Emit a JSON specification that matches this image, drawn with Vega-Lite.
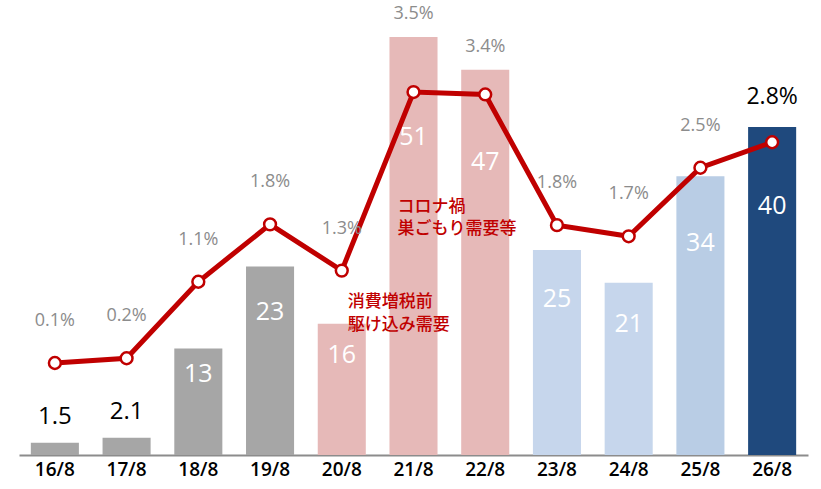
{
  "$schema": "https://vega.github.io/schema/vega-lite/v6.json",
  "width": 789,
  "height": 455,
  "padding": {"left": 19, "top": 0, "right": 13, "bottom": 4},
  "config": {"view": {"stroke": null}, "font": "Open Sans"},
  "data": {"values": [
    {"date": "16/8", "count": 1.5, "rate": 0.10, "pct": "0.1%"},
    {"date": "17/8", "count": 2.1, "rate": 0.16, "pct": "0.2%"},
    {"date": "18/8", "count": 13, "rate": 1.12, "pct": "1.1%"},
    {"date": "19/8", "count": 23, "rate": 1.84, "pct": "1.8%"},
    {"date": "20/8", "count": 16, "rate": 1.26, "pct": "1.3%"},
    {"date": "21/8", "count": 51, "rate": 3.50, "pct": "3.5%"},
    {"date": "22/8", "count": 47, "rate": 3.47, "pct": "3.4%"},
    {"date": "23/8", "count": 25, "rate": 1.83, "pct": "1.8%"},
    {"date": "24/8", "count": 21, "rate": 1.69, "pct": "1.7%"},
    {"date": "25/8", "count": 34, "rate": 2.55, "pct": "2.5%"},
    {"date": "26/8", "count": 40, "rate": 2.87, "pct": "2.8%"}
  ]},
  "encoding": {
    "x": {
      "field": "date", "type": "nominal", "sort": null,
      "scale": {
        "domain": ["16/8","17/8","18/8","19/8","20/8","21/8","22/8","23/8","24/8","25/8","26/8"],
        "paddingInner": 0.33, "paddingOuter": 0.165
      },
      "axis": {
        "title": null, "labelAngle": 0, "ticks": false,
        "domainColor": "#8c8c8c", "domainWidth": 2,
        "labelFontSize": 19, "labelFontWeight": 600, "labelColor": "#000000",
        "labelPadding": 5, "labelFont": "Open Sans"
      }
    }
  },
  "resolve": {"scale": {"y": "independent"}},
  "layer": [
    {
      "mark": {"type": "bar"},
      "encoding": {
        "y": {"field": "count", "type": "quantitative", "scale": {"domain": [0, 55.5], "nice": false, "zero": true}, "axis": null},
        "color": {
          "field": "date", "type": "nominal", "legend": null,
          "scale": {
            "domain": ["16/8","17/8","18/8","19/8","20/8","21/8","22/8","23/8","24/8","25/8","26/8"],
            "range": ["#a6a6a6","#a6a6a6","#a6a6a6","#a6a6a6","#e6b9b8","#e6b9b8","#e6b9b8","#c6d6ec","#c6d6ec","#b9cde5","#1f497d"]
          }
        }
      }
    },
    {
      "transform": [{"filter": "datum.count < 5"}],
      "mark": {"type": "text", "dy": -26, "fontSize": 24, "color": "#000000", "baseline": "middle"},
      "encoding": {
        "y": {"field": "count", "type": "quantitative", "scale": {"domain": [0, 55.5], "nice": false}, "axis": null},
        "text": {"field": "count", "type": "quantitative", "format": ".1f"}
      }
    },
    {
      "transform": [{"filter": "datum.count >= 5"}],
      "mark": {"type": "text", "fontSize": 25, "color": "#ffffff", "baseline": "middle"},
      "encoding": {
        "y": {"field": "count", "type": "quantitative", "scale": {"domain": [0, 73], "nice": false}, "axis": null},
        "text": {"field": "count", "type": "quantitative", "format": "d"}
      }
    },
    {
      "mark": {"type": "line", "color": "#c00000", "strokeWidth": 5},
      "encoding": {
        "y": {"field": "rate", "type": "quantitative", "scale": {"domain": [-1.054, 4.655], "nice": false, "zero": false}, "axis": null}
      }
    },
    {
      "mark": {"type": "point", "filled": true, "fill": "#ffffff", "stroke": "#c00000", "strokeWidth": 2.5, "size": 140, "opacity": 1},
      "encoding": {
        "y": {"field": "rate", "type": "quantitative", "scale": {"domain": [-1.054, 4.655], "nice": false, "zero": false}, "axis": null}
      }
    },
    {
      "transform": [{"filter": "datum.date != '21/8' && datum.date != '22/8' && datum.date != '26/8'"}],
      "mark": {"type": "text", "dy": -42, "fontSize": 18, "color": "#8c8c8c", "baseline": "middle"},
      "encoding": {
        "y": {"field": "rate", "type": "quantitative", "scale": {"domain": [-1.054, 4.655], "nice": false, "zero": false}, "axis": null},
        "text": {"field": "pct", "type": "nominal"}
      }
    },
    {
      "transform": [{"filter": "datum.date == '21/8' || datum.date == '22/8'"}],
      "mark": {"type": "text", "dy": -23, "fontSize": 18, "color": "#8c8c8c", "baseline": "middle"},
      "encoding": {
        "y": {"field": "count", "type": "quantitative", "scale": {"domain": [0, 55.5], "nice": false}, "axis": null},
        "text": {"field": "pct", "type": "nominal"}
      }
    },
    {
      "transform": [{"filter": "datum.date == '26/8'"}],
      "mark": {"type": "text", "dy": -30, "fontSize": 23, "color": "#000000", "baseline": "middle"},
      "encoding": {
        "y": {"field": "count", "type": "quantitative", "scale": {"domain": [0, 55.5], "nice": false}, "axis": null},
        "text": {"field": "pct", "type": "nominal"}
      }
    },
    {
      "data": {"values": [{"date": "21/8", "level": 31.2, "note": "コロナ禍\n巣ごもり需要等"}]},
      "mark": {"type": "text", "align": "left", "baseline": "top", "dx": -16, "fontSize": 17, "fontWeight": 500, "lineHeight": 22, "lineBreak": "\n", "color": "#c00000", "font": "Noto Sans CJK JP"},
      "encoding": {
        "y": {"field": "level", "type": "quantitative", "scale": {"domain": [0, 55.5], "nice": false}, "axis": null},
        "text": {"field": "note", "type": "nominal"}
      }
    },
    {
      "data": {"values": [{"date": "20/8", "level": 19.6, "note": "消費増税前\n駆け込み需要"}]},
      "mark": {"type": "text", "align": "left", "baseline": "top", "dx": 6, "fontSize": 17, "fontWeight": 500, "lineHeight": 23, "lineBreak": "\n", "color": "#c00000", "font": "Noto Sans CJK JP"},
      "encoding": {
        "y": {"field": "level", "type": "quantitative", "scale": {"domain": [0, 55.5], "nice": false}, "axis": null},
        "text": {"field": "note", "type": "nominal"}
      }
    }
  ]
}
